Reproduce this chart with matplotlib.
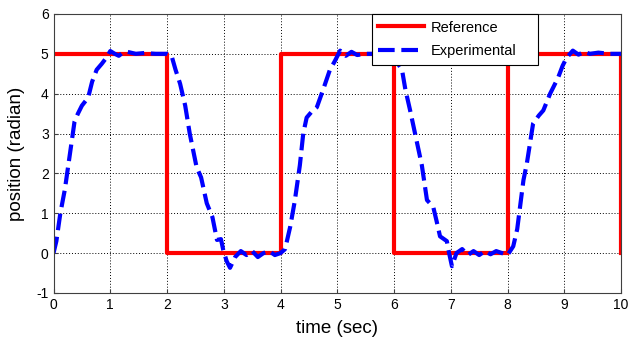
import matplotlib.pyplot as plt

plt.rcParams['font.family'] = ['Liberation Sans', 'DejaVu Sans']
plt.rcParams['axes.unicode_minus'] = False

# Reference square wave (radian)
ref_t = [0, 2, 2, 4, 4, 6, 6, 8, 8, 10, 10]
ref_pos = [5, 5, 0, 0, 5, 5, 0, 0, 5, 5, 0]

exp_t = [0.0, 0.05, 0.12, 0.2, 0.24, 0.3, 0.37, 0.43, 0.5, 0.61, 0.68, 0.76, 0.85, 0.93, 1.0,
         1.08, 1.15, 1.22, 1.3, 1.45, 1.6, 1.8, 2.0,
         2.08, 2.15, 2.23, 2.32, 2.4, 2.52, 2.6, 2.7, 2.8, 2.88, 2.95, 2.99, 3.05, 3.11,
         3.2, 3.3, 3.4, 3.5, 3.6, 3.7, 3.8, 3.9, 4.0,
         4.08, 4.17, 4.25, 4.34, 4.4, 4.46, 4.55, 4.64, 4.75, 4.87, 4.95, 5.05,
         5.15, 5.25, 5.35, 5.5, 5.7, 5.9, 6.0,
         6.07, 6.14, 6.2, 6.28, 6.4, 6.49, 6.58, 6.69, 6.75, 6.81, 6.93, 6.97, 7.02, 7.1,
         7.2, 7.3, 7.4, 7.5, 7.6, 7.7, 7.8, 7.9, 8.0,
         8.1, 8.17, 8.28, 8.34, 8.45, 8.55, 8.63, 8.75, 8.89, 8.97, 9.04, 9.15,
         9.25, 9.35, 9.45, 9.6, 9.8, 10.0]
exp_pos = [0.0, 0.3, 1.0, 1.6, 2.0, 2.6, 3.3, 3.5, 3.7, 3.9, 4.3, 4.6, 4.75, 4.9, 5.07,
           5.0, 4.95, 5.03, 5.05, 5.0, 5.02, 5.0, 5.0,
           4.95, 4.6, 4.25, 3.7, 3.0, 2.16, 1.9, 1.25, 0.9, 0.33, 0.35, 0.08, -0.2, -0.37,
           -0.1, 0.05, -0.05, 0.05, -0.1, 0.0, 0.05, -0.05, 0.0,
           0.1, 0.66, 1.3, 2.2, 3.0, 3.4, 3.55, 3.66, 4.1, 4.6, 4.8, 5.08,
           4.95, 5.05, 4.97, 5.0, 5.0, 5.0, 4.95,
           4.75, 4.6, 4.1, 3.6, 2.8, 2.2, 1.33, 1.16, 0.8, 0.42, 0.3, 0.0, -0.33, 0.0,
           0.1, -0.05, 0.05, -0.05, 0.05, -0.03, 0.05, 0.0, -0.05,
           0.17, 0.6, 1.83, 2.25, 3.25, 3.45, 3.58, 4.0, 4.4, 4.7, 4.9, 5.08,
           4.98, 5.05, 5.0, 5.03, 5.0, 5.0]

fig = plt.figure(figsize=(6.32, 3.41), dpi=100)
ax = fig.add_axes([0.0847, 0.141, 0.898, 0.818])

ax.plot(ref_t, ref_pos, color='#ff0000', linewidth=3, label='Reference')
ax.plot(exp_t, exp_pos, color='#0000ff', linewidth=3, linestyle=(0, (4, 1.6)),
        label='Experimental')

ax.set_xlim(0, 10)
ax.set_ylim(-1, 6)
ax.set_xticks(range(0, 11))
ax.set_yticks(range(-1, 7))
ax.grid(True, color='black', linestyle=(0, (1, 2)), linewidth=0.7)
ax.tick_params(direction='in', labelsize=10, length=3, colors='#404040',
               labelcolor='black')
for s in ax.spines.values():
    s.set_color('#404040')

ax.set_xlabel('time (sec)', fontsize=13.5, labelpad=6)
ax.set_ylabel('position (radian)', fontsize=13.5, labelpad=8)

# MATLAB-style legend box: a little wider and taller than matplotlib's default
leg = ax.legend(loc='upper left', bbox_to_anchor=(0.561, 0.0, 0.293, 1.0), mode='expand',
                fontsize=10.5, fancybox=False, framealpha=1, edgecolor='black',
                handlelength=3.1, handletextpad=0.5, borderaxespad=0,
                labelspacing=0.65, borderpad=0.45)
leg.get_frame().set_linewidth(0.8)

fig.savefig('out.png', dpi=100)
